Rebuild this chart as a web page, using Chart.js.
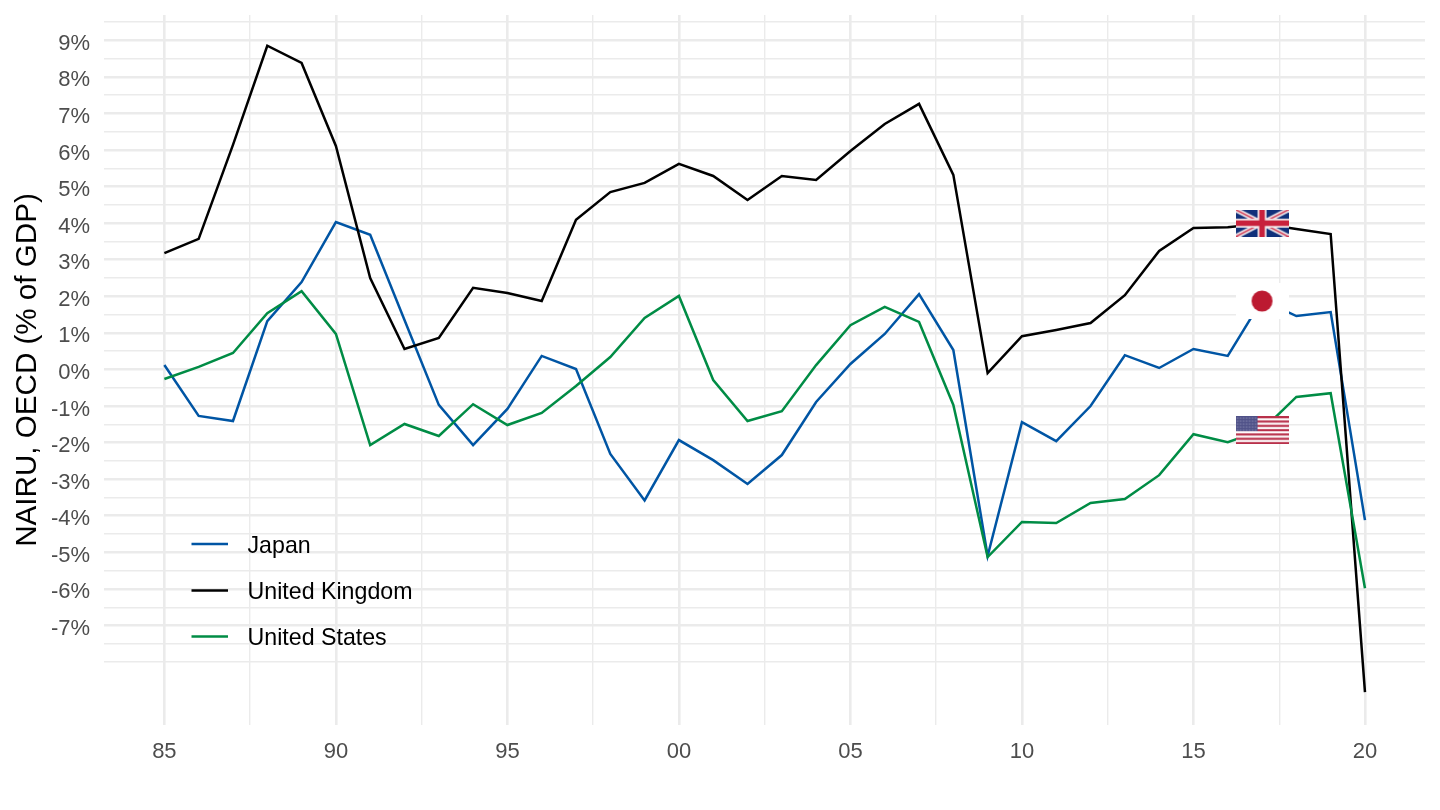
<!DOCTYPE html>
<html><head><meta charset="utf-8">
<style>html,body{margin:0;padding:0;background:#fff}#w{width:1440px;height:810px;position:relative}</style>
<script src="https://cdn.jsdelivr.net/npm/chart.js@4"></script></head>
<body><div id="w"><canvas id="c" width="1440" height="810"></canvas></div>
<script>
const years=[1985,1986,1987,1988,1989,1990,1991,1992,1993,1994,1995,1996,1997,1998,1999,2000,2001,2002,2003,2004,2005,2006,2007,2008,2009,2010,2011,2012,2013,2014,2015,2016,2017,2018,2019,2020];
const japan=[0.12,-1.27,-1.41,1.32,2.39,4.03,3.68,1.35,-0.97,-2.07,-1.08,0.37,0.01,-2.31,-3.58,-1.93,-2.48,-3.13,-2.34,-0.89,0.15,0.97,2.06,0.53,-5.10,-1.44,-1.96,-1.00,0.39,0.04,0.56,0.37,1.90,1.46,1.57,-4.12];
const uk=[3.18,3.57,6.14,8.85,8.38,6.11,2.50,0.56,0.86,2.23,2.09,1.87,4.09,4.85,5.10,5.62,5.29,4.63,5.29,5.18,5.97,6.71,7.26,5.32,-0.10,0.91,1.08,1.27,2.03,3.24,3.87,3.89,3.98,3.84,3.70,-8.82];
const us=[-0.26,0.07,0.45,1.54,2.14,0.97,-2.07,-1.49,-1.82,-0.95,-1.52,-1.19,-0.45,0.34,1.41,2.01,-0.29,-1.41,-1.14,0.12,1.21,1.71,1.30,-0.97,-5.13,-4.17,-4.20,-3.65,-3.54,-2.89,-1.77,-1.99,-1.66,-0.75,-0.65,-5.98];
const seriesNames=['Japan','United Kingdom','United States'];
const seriesColors=['#0055A4','#000000','#008C45'];
const yTicks=[9,8,7,6,5,4,3,2,1,0,-1,-2,-3,-4,-5,-6,-7];
const xLabelYears=[1985,1990,1995,2000,2005,2010,2015,2020];
const flagYear=2017;
const flagValues=[1.87,4.00,-1.66];

function flag(w,h,fn){const c=document.createElement('canvas');c.width=w;c.height=h;fn(c.getContext('2d'),w,h);return c;}
const jpFlag=flag(53,36,(g,w,h)=>{g.fillStyle='#fff';g.fillRect(0,0,w,h);g.fillStyle='#BC1A31';g.beginPath();g.arc(w/2,h/2,10.5,0,Math.PI*2);g.fill();});
const ukFlag=flag(53,27,(g,w,h)=>{
  g.fillStyle='#10307A';g.fillRect(0,0,w,h);
  g.strokeStyle='#EDE6EA';g.lineWidth=5;g.beginPath();g.moveTo(0,0);g.lineTo(w,h);g.moveTo(w,0);g.lineTo(0,h);g.stroke();
  g.strokeStyle='#D0354F';g.lineWidth=1.5;g.beginPath();g.moveTo(0,0);g.lineTo(w,h);g.moveTo(w,0);g.lineTo(0,h);g.stroke();
  g.fillStyle='#F4EEF0';g.fillRect(w/2-4.5,0,9,h);g.fillRect(0,h/2-4.5,w,9);
  g.fillStyle='#C8213C';g.fillRect(w/2-2.8,0,5.6,h);g.fillRect(0,h/2-2.8,w,5.6);
});
const usFlag=flag(53,28,(g,w,h)=>{
  g.fillStyle='#fff';g.fillRect(0,0,w,h);g.fillStyle='#B8304A';
  for(let i=0;i<13;i+=2)g.fillRect(0,i*h/13,w,h/13);
  g.fillStyle='#4F5188';g.fillRect(0,0,22,15);
  g.fillStyle='#B5B6CE';for(let y=1.5;y<15;y+=3)for(let x=1.5;x<22;x+=3)g.fillRect(x,y,1,1);
});

const toPts=a=>a.map((v,i)=>({x:years[i],y:v}));
const labelNudge={id:'nudge',beforeDraw(ch){
  ch.scales.y.getLabelItems().forEach(it=>{it.options.translation[1]+=3.5;});
}};
const legendPlugin={id:'lg',afterDraw(ch){
  const g=ch.ctx;g.save();
  const ys=[544,590.5,636.5];
  seriesNames.forEach((n,i)=>{
    g.strokeStyle=seriesColors[i];g.lineWidth=2.5;g.beginPath();g.moveTo(191.5,ys[i]);g.lineTo(228,ys[i]);g.stroke();
    g.fillStyle='#000';g.font='23.2px "Liberation Sans"';g.textAlign='left';g.textBaseline='middle';g.fillText(n,247.5,ys[i]+2.5);
  });
  g.restore();
}};
new Chart(document.getElementById('c'),{
  type:'line',
  data:{datasets:[
    {label:seriesNames[0],data:toPts(japan),borderColor:seriesColors[0],borderWidth:2.5,pointRadius:0,tension:0,order:3,borderJoinStyle:'miter'},
    {label:seriesNames[1],data:toPts(uk),borderColor:seriesColors[1],borderWidth:2.5,pointRadius:0,tension:0,order:2,borderJoinStyle:'miter'},
    {label:seriesNames[2],data:toPts(us),borderColor:seriesColors[2],borderWidth:2.5,pointRadius:0,tension:0,order:1,borderJoinStyle:'miter'},
    {label:'flags',data:flagValues.map(v=>({x:flagYear,y:v})),showLine:false,pointStyle:[jpFlag,ukFlag,usFlag],pointRadius:1,order:0}
  ]},
  options:{
    responsive:false,animation:false,devicePixelRatio:1,
    layout:{padding:{top:15,right:15,left:0,bottom:0}},
    plugins:{legend:{display:false},tooltip:{enabled:false}},
    scales:{
      x:{type:'linear',min:1983.24,max:2021.75,
        afterFit(s){s.height=85;s.paddingLeft=0;s.paddingRight=0;},
        afterBuildTicks(s){const t=[];for(let v=1985;v<=2020;v+=2.5)t.push({value:v});s.ticks=t;},
        border:{display:false},
        grid:{drawTicks:false,color:'#EBEBEB',lineWidth:c=>c.tick&&c.tick.value%5===0?2.6:1.4},
        ticks:{autoSkip:false,maxRotation:0,padding:14,color:'#4D4D4D',font:{family:'"Liberation Sans"',size:22},
          callback:v=>xLabelYears.includes(v)?String(v%100).padStart(2,'0'):''}
      },
      y:{type:'linear',min:-9.72,max:9.69,
        afterFit(s){s.width=104;s.paddingTop=0;s.paddingBottom=0;},
        afterBuildTicks(s){const t=[];for(let v=-8;v<=9.5;v+=0.5)t.push({value:v});s.ticks=t;},
        border:{display:false},
        grid:{drawTicks:false,color:'#EBEBEB',lineWidth:c=>c.tick&&yTicks.includes(c.tick.value)?2.6:1.4},
        ticks:{autoSkip:false,padding:14,color:'#4D4D4D',font:{family:'"Liberation Sans"',size:22},
          callback:v=>yTicks.includes(v)?v+'%':''},
        title:{display:true,text:'NAIRU, OECD (% of GDP)',color:'#000',font:{family:'"Liberation Sans"',size:29.6},padding:{top:10,bottom:0}}
      }
    }
  },
  plugins:[labelNudge,legendPlugin]
});
</script></body></html>
